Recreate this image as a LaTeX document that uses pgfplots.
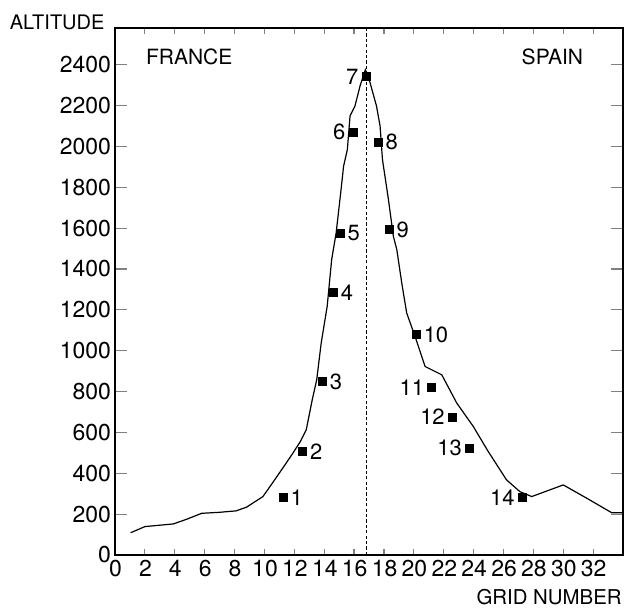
\documentclass[border=0pt]{standalone}
\usepackage{fontspec}
\setmainfont{TeX Gyre Heros}
\usepackage{pgfplots}
\pgfplotsset{compat=1.18}

\begin{document}
\begin{tikzpicture}
\begin{axis}[
    scale only axis,
    width=254pt, height=263.5pt,
    xmin=0, xmax=34,
    ymin=0, ymax=2580,
    clip=false,
    axis line style={line width=0.7pt},
    tick align=inside,
    xtick={0,2,...,32},
    ytick={0,200,...,2400},
    xtick pos=both, ytick pos=both,
    xticklabel pos=bottom, yticklabel pos=left,
    xtick style={/pgfplots/major tick length=3pt, line width=0.6pt},
    ytick style={/pgfplots/major tick length=6pt, line width=0.6pt},
    tick label style={font=\fontsize{11.5}{13}\selectfont},
    /pgf/number format/assume math mode=true,
    /pgf/number format/1000 sep={},
    xticklabel style={yshift=1pt, xshift=0.3pt},
    yticklabel style={xshift=1.5pt},
]
% vertical border line
\addplot[black, line width=0.4pt, dash pattern=on 1.6pt off 1.1pt] coordinates {(16.8,0) (16.8,2580)};

% altitude profile
\addplot[black, line width=0.6pt] coordinates {
(1.05,109) (2.0,139) (3.9,152) (4.8,175) (5.8,204) (7.0,209) (8.1,216)
(8.8,234) (9.9,286) (10.6,359) (11.3,433) (11.9,498) (12.4,555) (12.8,613)
(13.2,760) (13.5,858) (13.8,1038) (14.2,1217) (14.5,1446) (14.8,1577)
(15.1,1770) (15.3,1904) (15.55,1985) (15.73,2149) (16.06,2198) (16.4,2296)
(16.75,2375) (17.07,2312) (17.5,2198) (17.74,2100) (17.9,1936) (18.3,1740)
(18.63,1560) (18.86,1495) (19.19,1332) (19.52,1185) (20.08,1070) (20.75,923)
(21.87,882) (22.87,744) (23.98,629) (24.95,510) (26.2,368) (27.1,310)
(27.89,286) (30.0,343) (31.57,278) (33.24,207) (34.0,207)
};

% sites labelled on the right
\addplot[only marks, mark=square*, mark size=2pt, black,
    nodes near coords, point meta=explicit symbolic,
    nodes near coords style={anchor=west, xshift=0.3pt, yshift=0pt,
        font=\fontsize{11}{12}\selectfont}]
coordinates {
(11.24,280) [1] (12.54,506) [2] (13.86,848) [3] (14.6,1284) [4]
(15.06,1574) [5] (17.6,2020) [8] (18.34,1593) [9] (20.15,1078) [10]
};

% sites labelled on the left
\addplot[only marks, mark=square*, mark size=2pt, black,
    nodes near coords, point meta=explicit symbolic,
    nodes near coords style={anchor=east, xshift=-0.3pt, yshift=0pt,
        font=\fontsize{11}{12}\selectfont}]
coordinates {
(15.93,2069) [6] (16.8,2343) [7] (21.2,819) [11] (22.58,675) [12]
(23.72,523) [13] (27.26,281) [14]
};

\node[anchor=base west, font=\fontsize{10.5}{12}\selectfont] at (axis cs:1.61,2402) {FRANCE};
\node[anchor=base east, font=\fontsize{10.5}{12}\selectfont] at (axis cs:31.8,2402) {SPAIN};
\node[anchor=base east, inner sep=0pt, font=\fontsize{10}{12}\selectfont] at (rel axis cs:-0.02,0.9962) {ALTITUDE};
\node[anchor=base east, inner sep=0pt, font=\fontsize{10.2}{12}\selectfont] at (rel axis cs:0.998,-0.0949) {GRID NUMBER};

\coordinate (bl) at (rel axis cs:-0.2264,-0.1006);
\coordinate (tr) at (rel axis cs:1.0098,1.0531);
\end{axis}
\path (bl) rectangle (tr);
\end{tikzpicture}
\end{document}
